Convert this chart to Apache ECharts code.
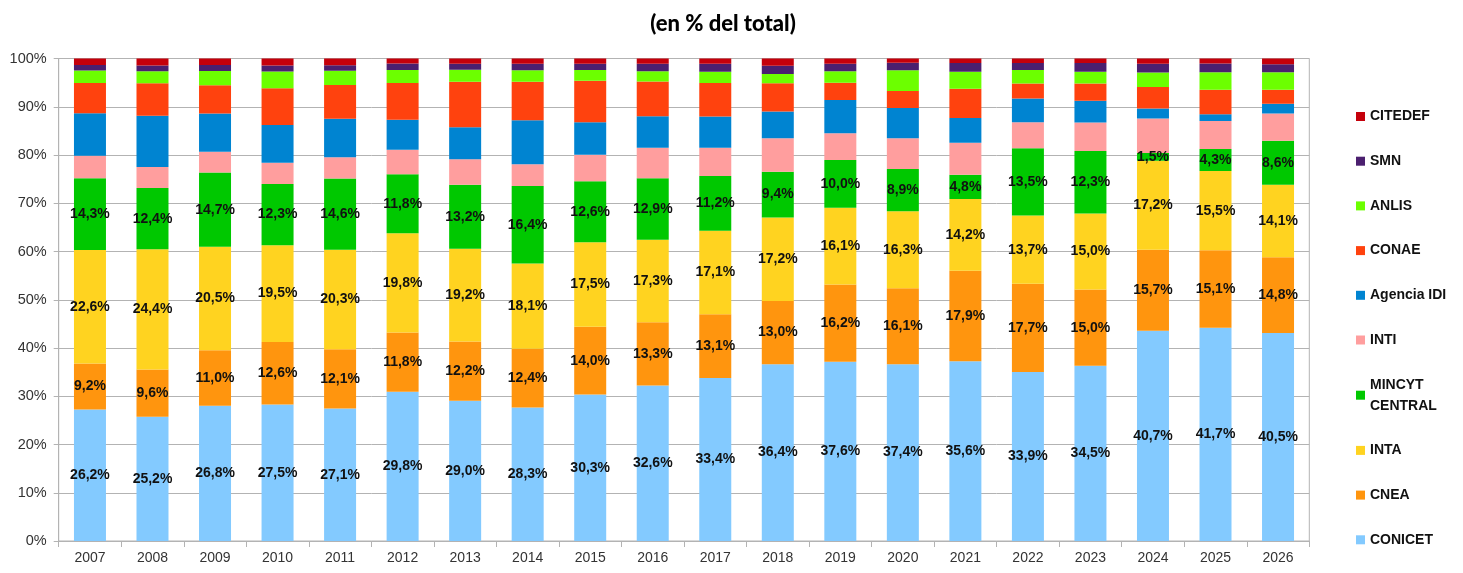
<!DOCTYPE html>
<html>
<head>
<meta charset="utf-8">
<script src="https://cdn.jsdelivr.net/npm/echarts@6/dist/echarts.min.js"></script>
<style>
    html, body { margin: 0; padding: 0; background: #fff; }
    #chart { width: 1463px; height: 573px; }
</style>
</head>
<body>
<div id="chart"></div>
<script>
const years = ['2007', '2008', '2009', '2010', '2011', '2012', '2013', '2014', '2015', '2016',
    '2017', '2018', '2019', '2020', '2021', '2022', '2023', '2024', '2025', '2026'];

// valores etiquetados
const conicet = [26.2, 25.2, 26.8, 27.5, 27.1, 29.8, 29.0, 28.3, 30.3, 32.6, 33.4, 36.4, 37.6, 37.4, 35.6, 33.9, 34.5, 40.7, 41.7, 40.5];
const cnea = [9.2, 9.6, 11.0, 12.6, 12.1, 11.8, 12.2, 12.4, 14.0, 13.3, 13.1, 13.0, 16.2, 16.1, 17.9, 17.7, 15.0, 15.7, 15.1, 14.8];
const inta = [22.6, 24.4, 20.5, 19.5, 20.3, 19.8, 19.2, 18.1, 17.5, 17.3, 17.1, 17.2, 16.1, 16.3, 14.2, 13.7, 15.0, 17.2, 15.5, 14.1];
const mincyt = [14.3, 12.4, 14.7, 12.3, 14.6, 11.8, 13.2, 16.4, 12.6, 12.9, 11.2, 9.4, 10.0, 8.9, 4.8, 13.5, 12.3, 1.5, 4.3, 8.6];

// sin etiqueta (estimados del grafico)
const inti = [4.5, 4.3, 4.1, 4.3, 4.3, 4.9, 5.3, 4.6, 5.5, 6.4, 5.8, 6.9, 5.6, 6.5, 6.3, 5.2, 5.6, 6.7, 5.5, 5.3];
const agencia = [8.5, 10.4, 7.6, 7.6, 7.9, 6.0, 6.6, 9.3, 6.7, 6.6, 6.4, 5.5, 7.0, 6.4, 4.9, 4.8, 4.3, 1.9, 1.3, 1.9];
const conae = [6.0, 6.6, 5.6, 7.4, 6.9, 7.3, 9.4, 8.2, 8.6, 7.3, 6.9, 5.8, 3.6, 3.6, 5.8, 3.0, 3.4, 4.2, 4.8, 2.7];
const anlis = [2.5, 2.4, 2.8, 3.4, 2.9, 2.6, 2.5, 2.4, 2.2, 2.1, 2.3, 1.9, 2.4, 4.4, 3.4, 2.7, 2.3, 2.8, 3.4, 3.4];
const smn = [1.1, 1.2, 1.2, 1.2, 1.1, 1.3, 1.2, 1.4, 1.3, 1.6, 1.6, 1.7, 1.6, 1.6, 1.7, 1.4, 1.7, 1.7, 1.7, 1.6];
const citedef = [1.3, 1.4, 1.3, 1.4, 1.4, 1.0, 1.1, 1.1, 1.1, 1.1, 1.1, 1.5, 1.1, 0.9, 0.9, 0.9, 0.9, 1.0, 1.0, 1.1];

const yTicks = [0, 10, 20, 30, 40, 50, 60, 70, 80, 90, 100];

const names = ['CONICET', 'CNEA', 'INTA', 'MINCYT CENTRAL', 'INTI', 'Agencia IDI', 'CONAE', 'ANLIS', 'SMN', 'CITEDEF'];
const colors = ['#83caff', '#ff950e', '#ffd320', '#00c800', '#ff9e9e', '#0084d1', '#ff420e', '#6cff00', '#4b1f6f', '#c5000b'];
const raw = [conicet, cnea, inta, mincyt, inti, agencia, conae, anlis, smn, citedef];
const labeled = 4;

// cada barra al 100%
const totals = years.map((y, i) => raw.reduce((s, arr) => s + arr[i], 0));

const chart = echarts.init(document.getElementById('chart'));

const font = '"Liberation Sans", Arial, sans-serif';

const series = raw.map((arr, k) => ({
    name: names[k],
    type: 'bar',
    stack: 'total',
    barWidth: 32,
    itemStyle: { color: colors[k] },
    label: {
        show: k < labeled,
        position: 'inside',
        color: '#111',
        fontFamily: font,
        fontWeight: 'bold',
        fontSize: 14,
        formatter: p => arr[p.dataIndex].toFixed(1).replace('.', ',') + '%'
    },
    data: arr.map((v, i) => v / totals[i] * 100)
}));

chart.setOption({
    animation: false,
    backgroundColor: '#fff',
    title: {
        text: '(en % del total)',
        left: 718,
        top: 8,
        textAlign: 'center',
        textStyle: {
            fontFamily: 'Lato, sans-serif',
            fontWeight: 900,
            fontSize: 22,
            color: '#000'
        }
    },
    grid: {
        left: 58.7,
        right: 153.7,
        top: 58.5,
        bottom: 32,
        show: true,
        borderColor: '#b3b3b3',
        borderWidth: 1
    },
    legend: {
        orient: 'vertical',
        left: 1351,
        top: 101,
        itemWidth: 9,
        itemHeight: 9,
        itemGap: 23.7,
        icon: 'rect',
        data: names.slice().reverse(),
        formatter: n => n === 'MINCYT CENTRAL' ? 'MINCYT\nCENTRAL' : n,
        textStyle: {
            fontFamily: font,
            fontWeight: 'bold',
            fontSize: 14,
            lineHeight: 21,
            color: '#111'
        }
    },
    xAxis: {
        type: 'category',
        data: years,
        axisLine: { lineStyle: { color: '#b3b3b3' } },
        axisTick: { show: true, length: 6, lineStyle: { color: '#b3b3b3' } },
        axisLabel: {
            color: '#333',
            fontFamily: font,
            fontSize: 14,
            margin: 10
        }
    },
    yAxis: {
        type: 'value',
        min: yTicks[0],
        max: yTicks[yTicks.length - 1],
        interval: 10,
        axisLine: { show: true, lineStyle: { color: '#b3b3b3' } },
        axisTick: { show: true, length: 5, lineStyle: { color: '#b3b3b3' } },
        splitLine: { lineStyle: { color: '#b3b3b3' } },
        axisLabel: {
            color: '#333',
            fontFamily: font,
            fontSize: 14.5,
            margin: 12,
            formatter: '{value}%'
        }
    },
    series: series
});
</script>
</body>
</html>
